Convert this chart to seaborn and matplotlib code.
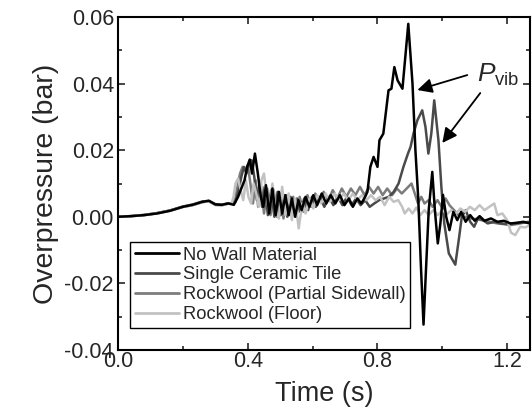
import numpy as np
import pandas as pd
import seaborn as sns
import matplotlib
matplotlib.use("Agg")
import matplotlib.pyplot as plt
from matplotlib.ticker import MultipleLocator, FormatStrFormatter
from matplotlib.lines import Line2D

# ---- measured overpressure traces (time in s, overpressure in bar) ----
t_no_wall = [0.00, 0.04, 0.08, 0.12, 0.16, 0.20, 0.23, 0.26, 0.28, 0.30, 0.32, 0.34,
             0.357, 0.370, 0.380, 0.390, 0.398, 0.406, 0.413, 0.422, 0.431, 0.440,
             0.448, 0.456, 0.466, 0.476, 0.486, 0.496, 0.506, 0.516, 0.526, 0.536,
             0.546, 0.556, 0.566, 0.578, 0.590, 0.602, 0.614, 0.628, 0.642, 0.656,
             0.670, 0.684, 0.698, 0.712, 0.724, 0.738, 0.750, 0.762, 0.769, 0.778,
             0.788, 0.800, 0.806, 0.818, 0.834, 0.843, 0.852, 0.862, 0.877, 0.895,
             0.908, 0.917, 0.926, 0.934, 0.942, 0.950, 0.958, 0.969, 0.977, 0.986,
             0.994, 1.002, 1.012, 1.022, 1.034, 1.046, 1.058, 1.072, 1.086, 1.100,
             1.115, 1.130, 1.150, 1.170, 1.190, 1.210, 1.230, 1.250, 1.270]
p_no_wall = [0.0000, 0.0002, 0.0005, 0.0010, 0.0018, 0.0030, 0.0036, 0.0045, 0.0048, 0.0037, 0.0036, 0.0040,
             0.0036, 0.0060, 0.0085, 0.0110, 0.0150, 0.0172, 0.0130, 0.0190, 0.0130, 0.0060,
             0.0030, 0.0095, 0.0010, 0.0085, 0.0005, 0.0075, 0.0010, 0.0065, 0.0005, 0.0055,
             0.0000, 0.0050, 0.0020, 0.0060, 0.0030, 0.0065, 0.0035, 0.0070, 0.0040, 0.0065,
             0.0040, 0.0065, 0.0035, 0.0055, 0.0030, 0.0055, 0.0040, 0.0060, 0.0075, 0.0150,
             0.0180, 0.0150, 0.0230, 0.0250, 0.0380, 0.0385, 0.0450, 0.0410, 0.0385, 0.0580,
             0.0400, 0.0200, 0.0050, -0.0150, -0.0324, -0.0150, 0.0020, 0.0135, 0.0020, -0.0080,
             -0.0020, 0.0066, 0.0000, -0.0040, 0.0015, -0.0010, 0.0015, -0.0015, 0.0005, -0.0012,
             0.0002, -0.0012, -0.0005, -0.0015, -0.0012, -0.0020, -0.0018, -0.0015, -0.0020]

t_ceramic = [0.00, 0.04, 0.08, 0.12, 0.16, 0.20, 0.23, 0.26, 0.28, 0.30, 0.32, 0.34,
             0.350, 0.362, 0.372, 0.380, 0.388, 0.396, 0.404, 0.412, 0.420, 0.428,
             0.436, 0.444, 0.452, 0.462, 0.472, 0.482, 0.492, 0.502, 0.512, 0.522,
             0.532, 0.542, 0.552, 0.562, 0.574, 0.586, 0.598, 0.610, 0.622, 0.636,
             0.650, 0.664, 0.678, 0.692, 0.706, 0.720, 0.734, 0.748, 0.762, 0.776,
             0.790, 0.805, 0.820, 0.835, 0.850, 0.865, 0.880, 0.894, 0.902, 0.911,
             0.923, 0.938, 0.948, 0.957, 0.966, 0.975, 0.988, 0.997, 1.006, 1.020,
             1.040, 1.052, 1.060, 1.072, 1.086, 1.098, 1.110, 1.125, 1.140, 1.160,
             1.180, 1.200, 1.220, 1.240, 1.270]
p_ceramic = [0.0000, 0.0002, 0.0005, 0.0011, 0.0019, 0.0031, 0.0037, 0.0046, 0.0048, 0.0038, 0.0036, 0.0041,
             0.0040, 0.0045, 0.0080, 0.0120, 0.0150, 0.0130, 0.0160, 0.0170, 0.0120, 0.0050,
             0.0100, 0.0030, 0.0090, 0.0005, 0.0080, 0.0000, 0.0075, 0.0005, 0.0065, 0.0000,
             0.0060, 0.0010, 0.0055, 0.0015, 0.0055, 0.0020, 0.0060, 0.0030, 0.0060, 0.0030,
             0.0060, 0.0035, 0.0060, 0.0035, 0.0060, 0.0035, 0.0055, 0.0035, 0.0050, 0.0030,
             0.0040, 0.0050, 0.0055, 0.0060, 0.0075, 0.0100, 0.0150, 0.0190, 0.0210, 0.0250,
             0.0290, 0.0320, 0.0270, 0.0190, 0.0250, 0.0350, 0.0230, 0.0090, -0.0020, -0.0110,
             -0.0144, -0.0060, 0.0000, 0.0020, -0.0015, -0.0030, -0.0005, -0.0010, -0.0020, -0.0015,
             -0.0020, -0.0022, -0.0020, -0.0018, -0.0015]

t_partial = [0.00, 0.04, 0.08, 0.12, 0.16, 0.20, 0.23, 0.26, 0.28, 0.30, 0.32, 0.34,
             0.350, 0.360, 0.368, 0.376, 0.384, 0.392, 0.400, 0.408, 0.416, 0.424,
             0.432, 0.440, 0.450, 0.460, 0.470, 0.480, 0.490, 0.500, 0.510, 0.520,
             0.530, 0.540, 0.550, 0.560, 0.572, 0.584, 0.596, 0.608, 0.620, 0.634,
             0.648, 0.662, 0.676, 0.690, 0.704, 0.718, 0.732, 0.746, 0.760, 0.774,
             0.788, 0.802, 0.816, 0.830, 0.845, 0.860, 0.875, 0.890, 0.905, 0.915,
             0.925, 0.935, 0.945, 0.958, 0.970, 0.985, 0.998, 1.010, 1.022, 1.036,
             1.050, 1.070, 1.090, 1.110, 1.130, 1.150, 1.170, 1.190, 1.210, 1.230,
             1.250, 1.270]
p_partial = [0.0000, 0.0002, 0.0006, 0.0011, 0.0019, 0.0030, 0.0035, 0.0044, 0.0047, 0.0036, 0.0035, 0.0040,
             0.0040, 0.0050, 0.0090, 0.0130, 0.0150, 0.0140, 0.0156, 0.0100, 0.0040, 0.0110,
             0.0030, 0.0100, 0.0010, 0.0085, 0.0005, 0.0080, 0.0000, 0.0070, -0.0005, 0.0065,
             0.0005, 0.0060, 0.0000, 0.0060, 0.0015, 0.0065, 0.0030, 0.0070, 0.0045, 0.0075,
             0.0050, 0.0080, 0.0055, 0.0085, 0.0060, 0.0085, 0.0065, 0.0090, 0.0065, 0.0090,
             0.0070, 0.0090, 0.0065, 0.0085, 0.0065, 0.0085, 0.0070, 0.0085, 0.0100, 0.0070,
             0.0040, 0.0060, 0.0040, 0.0050, 0.0030, 0.0050, 0.0030, 0.0055, 0.0035, 0.0020,
             0.0005, 0.0000, -0.0005, -0.0008, -0.0012, -0.0016, -0.0020, -0.0022, -0.0025, -0.0022,
             -0.0018, -0.0016]

t_floor = [0.00, 0.04, 0.08, 0.12, 0.16, 0.20, 0.23, 0.26, 0.28, 0.30, 0.32, 0.34,
           0.350, 0.356, 0.362, 0.370, 0.378, 0.386, 0.394, 0.402, 0.410, 0.418,
           0.426, 0.434, 0.442, 0.450, 0.458, 0.466, 0.476, 0.486, 0.496, 0.506,
           0.516, 0.526, 0.536, 0.546, 0.557, 0.568, 0.578, 0.590, 0.602, 0.614,
           0.626, 0.640, 0.654, 0.668, 0.682, 0.696, 0.710, 0.724, 0.738, 0.752,
           0.766, 0.780, 0.794, 0.808, 0.822, 0.836, 0.850, 0.864, 0.876, 0.884,
           0.896, 0.908, 0.920, 0.932, 0.945, 0.958, 0.972, 0.986, 1.000, 1.014,
           1.028, 1.042, 1.056, 1.070, 1.085, 1.100, 1.115, 1.130, 1.145, 1.160,
           1.170, 1.185, 1.200, 1.212, 1.225, 1.240, 1.255, 1.270]
p_floor = [0.0000, 0.0002, 0.0005, 0.0010, 0.0018, 0.0029, 0.0035, 0.0044, 0.0046, 0.0035, 0.0034, 0.0039,
           0.0040, 0.0060, 0.0100, 0.0115, 0.0080, 0.0050, 0.0110, 0.0060, 0.0040, 0.0100,
           0.0070, 0.0030, 0.0110, 0.0130, 0.0060, 0.0015, 0.0100, 0.0020, -0.0005, 0.0090,
           0.0005, 0.0070, -0.0010, 0.0055, -0.0035, 0.0040, 0.0010, 0.0055, 0.0025, 0.0065,
           0.0040, 0.0070, 0.0045, 0.0070, 0.0050, 0.0070, 0.0050, 0.0070, 0.0050, 0.0065,
           0.0050, 0.0065, 0.0050, 0.0060, 0.0035, 0.0060, 0.0045, 0.0050, 0.0030, 0.0010,
           0.0025, 0.0010, 0.0028, 0.0005, 0.0020, 0.0005, 0.0020, 0.0005, 0.0020, 0.0008,
           0.0020, 0.0010, 0.0025, 0.0015, 0.0030, 0.0020, 0.0035, 0.0020, 0.0030, 0.0040,
           0.0005, 0.0010, -0.0010, -0.0048, -0.0055, -0.0030, -0.0032, -0.0025]

labels = ["No Wall Material", "Single Ceramic Tile",
          "Rockwool (Partial Sidewall)", "Rockwool (Floor)"]
colors = ["#000000", "#4a4a4a", "#7c7c7c", "#c2c2c2"]

series = [(t_no_wall, p_no_wall), (t_ceramic, p_ceramic),
          (t_partial, p_partial), (t_floor, p_floor)]
frames = [pd.DataFrame({"Time": t, "Overpressure": p, "Case": lab})
          for (t, p), lab in zip(series, labels)]
df = pd.concat(frames, ignore_index=True)

# ---- style ----
sns.set_style("ticks")
plt.rcParams["font.family"] = ["Liberation Sans", "DejaVu Sans"]
plt.rcParams["axes.unicode_minus"] = False
plt.rcParams["mathtext.fontset"] = "custom"
plt.rcParams["mathtext.rm"] = "Liberation Sans"
plt.rcParams["mathtext.it"] = "Liberation Sans:italic"
plt.rcParams["lines.solid_joinstyle"] = "round"

fig = plt.figure(figsize=(5.32, 4.19), dpi=100)
ax = fig.add_axes([0.222, 0.165, 0.774, 0.794])

palette = dict(zip(labels, colors))
draw_order = ["Rockwool (Partial Sidewall)", "Single Ceramic Tile",
              "Rockwool (Floor)", "No Wall Material"]
sns.lineplot(data=df, x="Time", y="Overpressure", hue="Case",
             hue_order=draw_order, palette=palette, estimator=None,
             sort=False, linewidth=1.8, legend=False, ax=ax)

ax.set_xlim(0.0, 1.27)
ax.set_ylim(-0.04, 0.06)
ax.xaxis.set_major_locator(MultipleLocator(0.4))
ax.xaxis.set_minor_locator(MultipleLocator(0.2))
ax.yaxis.set_major_locator(MultipleLocator(0.02))
ax.yaxis.set_minor_locator(MultipleLocator(0.01))
ax.xaxis.set_major_formatter(FormatStrFormatter("%.1f"))
ax.yaxis.set_major_formatter(FormatStrFormatter("%.2f"))
ax.tick_params(which="both", direction="in", top=True, right=True,
               width=1.2, labelsize=15.5, pad=3)
ax.tick_params(which="major", length=5)
ax.tick_params(which="minor", length=3)
ax.tick_params(axis="x", which="major", pad=1)
for sp in ax.spines.values():
    sp.set_linewidth(1.5)
    sp.set_color("black")

ax.set_xlabel("Time (s)", fontsize=19.5, labelpad=6)
ax.set_ylabel("Overpressure (bar)", fontsize=20.5, labelpad=4)

handles = [Line2D([], [], color=c, lw=2.0) for c in colors]
leg = ax.legend(handles, labels, loc="lower left", bbox_to_anchor=(0.03, 0.066),
                fontsize=13.2, frameon=True, fancybox=False, edgecolor="black",
                framealpha=1, handlelength=2.4, handletextpad=0.2,
                labelspacing=0.16, borderpad=0.25, borderaxespad=0)
leg.get_frame().set_linewidth(1.0)

# P_vib callout with two arrows
ax.text(1.172, 0.0426, r"$P_{\mathrm{vib}}$", fontsize=19, ha="center", va="center")
arrow_kw = dict(arrowstyle="-|>", color="black", lw=1.3, mutation_scale=22,
                shrinkA=0, shrinkB=0)
ax.annotate("", xy=(0.923, 0.0381), xytext=(1.077, 0.0426), arrowprops=arrow_kw)
ax.annotate("", xy=(1.0, 0.0222), xytext=(1.117, 0.0372), arrowprops=arrow_kw)

fig.savefig("out.png", dpi=100)
